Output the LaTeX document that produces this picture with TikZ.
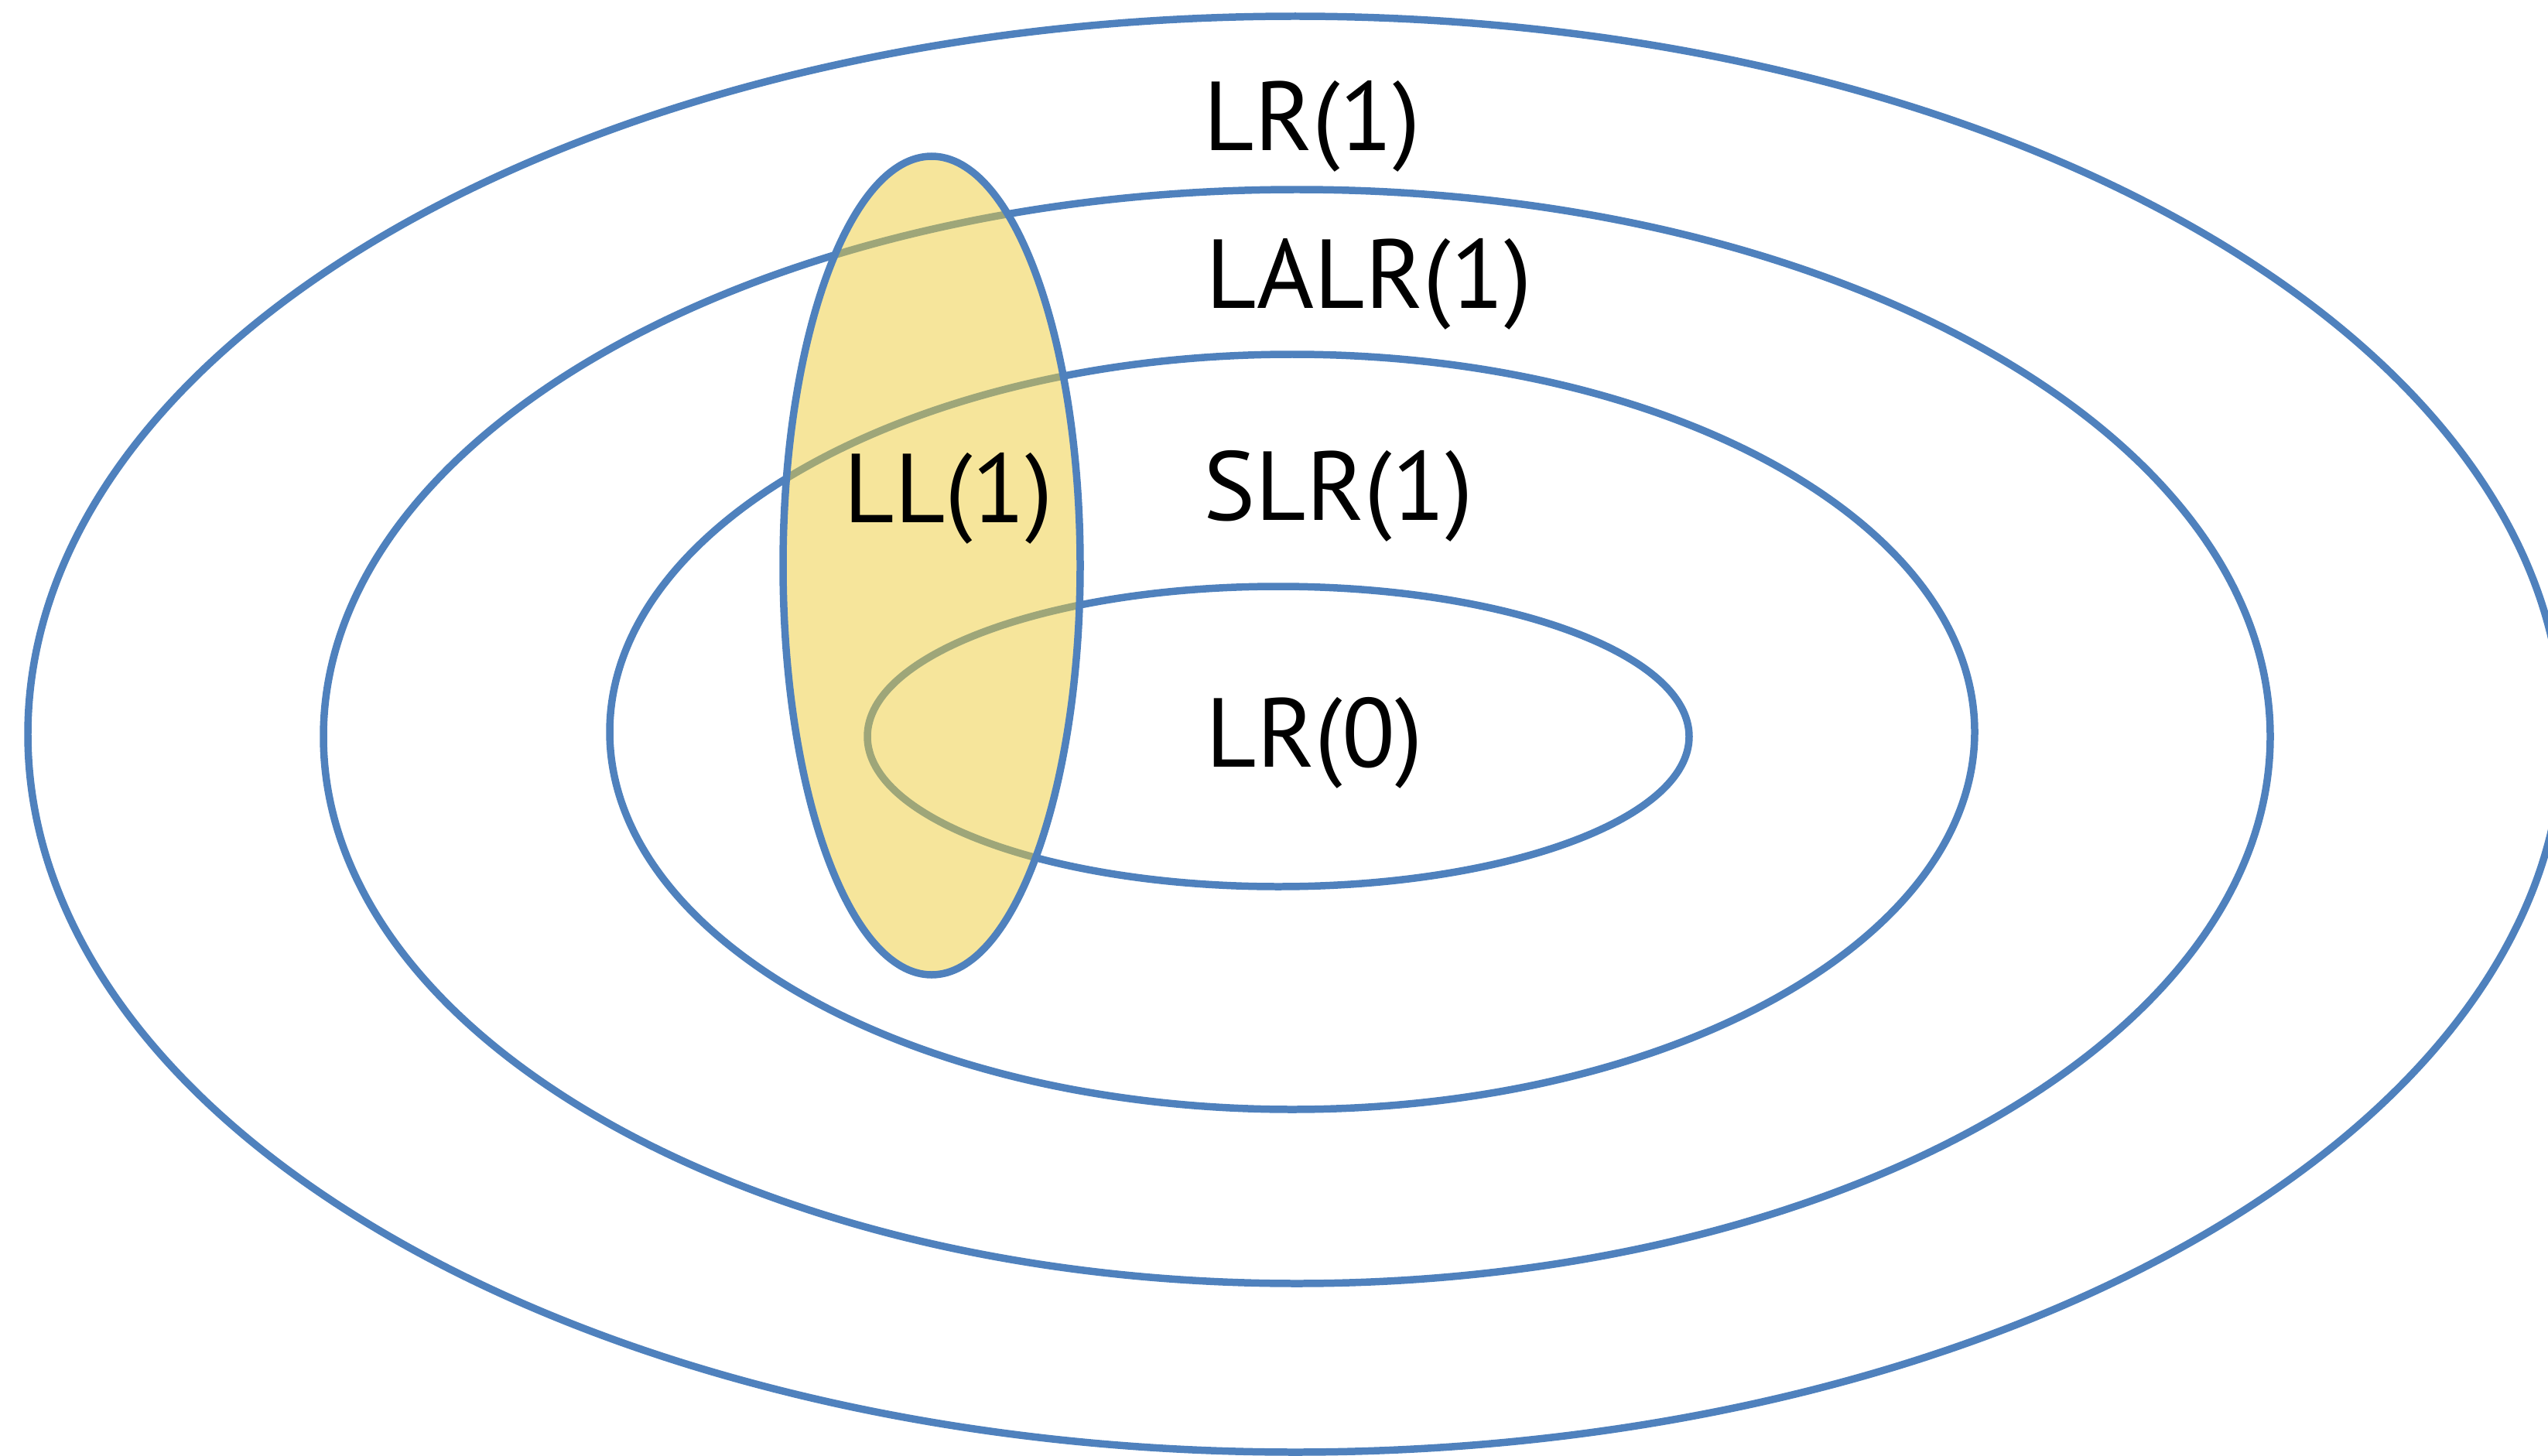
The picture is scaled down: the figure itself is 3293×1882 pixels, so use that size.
\documentclass[tikz,border=0pt]{standalone}
\usepackage{fontspec}
\setmainfont{PT Sans}
\usepackage{tikz}

\definecolor{setblue}{RGB}{79,129,189}
\definecolor{llyellow}{RGB}{237,204,55}

\begin{document}
\begin{tikzpicture}[x=0.01cm,y=0.01cm,
    setline/.style={draw=setblue, line width=2.7pt},
    setlabel/.style={font=\fontsize{36}{40}\selectfont, inner sep=0pt}]
      \useasboundingbox (0,0) rectangle (3293,-1882);
      % grammar classes
      \draw [setline] (1674,-949) ellipse [x radius=1638, y radius=928];
      \draw [setline] (1676,-952) ellipse [x radius=1258, y radius=707];
      \draw [setline] (1670,-946) ellipse [x radius=882, y radius=488];
      \draw [setline] (1652,-952) ellipse [x radius=531, y radius=194];
      % LL(1) on top
      \fill [llyellow, fill opacity=0.5] (1204,-731) ellipse [x radius=192, y radius=529];
      \draw [setline] (1204,-731) ellipse [x radius=192, y radius=529];
      \node [setlabel, anchor=base west] (lr1) at (1555,-195) {LR(1)};
      \node [setlabel, anchor=base west] (lalr) at (1558,-399) {LALR(1)};
      \node [setlabel, anchor=base west] (slr) at (1555,-672) {SLR(1)};
      \node [setlabel, anchor=base west] (lr0) at (1558,-991) {LR(0)};
      \node [setlabel, anchor=base] (ll) at (1226,-675) {LL(1)};
    \end{tikzpicture}
\end{document}
